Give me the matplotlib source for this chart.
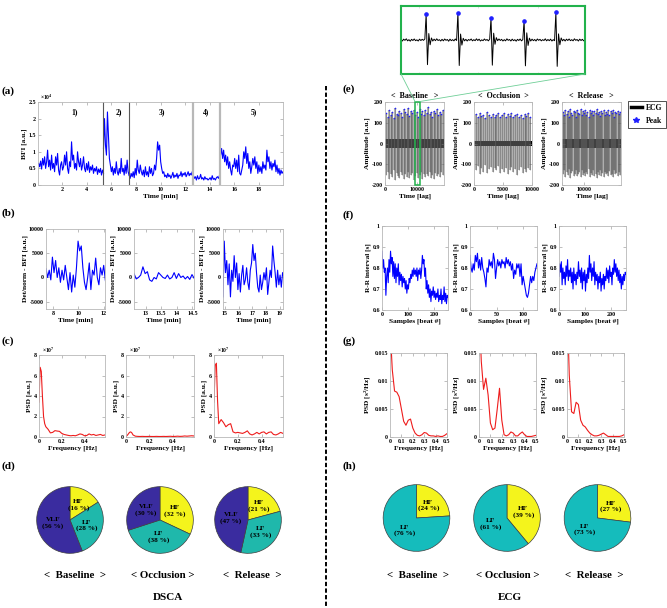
import numpy as np
import matplotlib
matplotlib.use('Agg')
import matplotlib.pyplot as plt
from matplotlib.lines import Line2D
from matplotlib.patches import Rectangle
from matplotlib.ticker import FuncFormatter

W, H = 667, 608

# ---------------- (a) BFI, units of 1e4 a.u. ----------------
SEG_EDGES = [0.1, 5.37, 7.45, 12.66, 14.8, 19.95]
BREAK_COLORS = ['0.35', '0.35', '0.72', '0.72']
BREAK_WIDTHS = [0.8, 0.8, 1.6, 1.6]
SEG_NAMES = ['1)', '2)', '3)', '4)', '5)']
SEG_NAME_X = [3.0, 6.6, 10.1, 13.7, 17.6]

BFI_SEG1 = [0.65, 0.55, 0.72, 0.48, 0.8, 0.6, 0.85, 0.5, 0.7, 1.05, 0.55, 0.75, 0.45, 0.9, 0.5, 0.65,
            0.4, 0.85, 0.6, 0.95, 0.45, 0.3, 0.6, 0.7, 0.45, 0.55, 0.9, 0.6, 1.0, 0.5, 0.35, 0.7, 0.55,
            1.3, 0.75, 0.9, 0.5, 0.65, 0.45, 1.0, 0.7, 0.55, 0.8, 0.45, 0.6, 0.85, 0.5, 0.4, 0.65, 0.45,
            0.7, 0.38, 0.55, 0.45, 0.6, 0.35, 0.5, 0.42, 0.55, 0.32, 0.48, 0.38, 0.5, 0.3, 0.45, 0.35]
BFI_SEG2 = [1.1, 2.0, 1.2, 0.9, 2.2, 1.5, 0.8, 0.6, 0.4, 0.55, 0.3, 0.5, 0.35, 0.7, 0.4, 0.3, 0.5,
            0.35, 0.8, 0.4, 0.5, 0.3, 0.6, 0.35, 0.75, 0.4, 0.3]
BFI_SEG3 = [0.3, 0.2, 0.35, 0.25, 0.4, 0.22, 0.5, 0.3, 0.75, 0.45, 0.35, 0.6, 0.4, 0.3, 0.45, 0.25,
            0.55, 0.3, 0.4, 0.25, 0.55, 0.35, 0.5, 0.28, 0.35, 0.6, 0.45, 0.8, 1.3, 1.05, 1.2, 0.7, 0.5,
            0.35, 0.4, 0.25, 0.3, 0.22, 0.35, 0.25, 0.3, 0.2, 0.28, 0.38, 0.22, 0.3, 0.25, 0.35, 0.2,
            0.3, 0.28, 0.4, 0.25, 0.35, 0.3, 0.38, 0.25, 0.32, 0.4, 0.28, 0.35, 0.3, 0.4, 0.28]
BFI_SEG4 = [0.3, 0.2, 0.25, 0.15, 0.28, 0.18, 0.2, 0.32, 0.18, 0.22, 0.15, 0.25, 0.18, 0.2, 0.15,
            0.18, 0.22, 0.15, 0.28, 0.17, 0.2, 0.15, 0.22, 0.25, 0.2, 0.3]
BFI_SEG5 = [1.4, 0.9, 1.1, 0.8, 1.05, 0.7, 0.9, 0.6, 0.85, 0.5, 0.7, 0.45, 0.3, 0.6, 0.55, 0.8, 0.5,
            0.75, 0.4, 0.9, 0.35, 0.3, 0.45, 0.6, 1.0, 0.8, 1.15, 0.65, 0.95, 0.5, 0.7, 0.35, 0.55,
            0.8, 0.6, 0.85, 0.5, 0.7, 0.35, 0.6, 0.4, 0.55, 0.35, 0.7, 0.5, 0.6, 0.45, 1.05, 0.7, 0.85,
            0.5, 0.7, 0.45, 0.65, 0.55, 0.75, 0.4, 0.6, 0.35, 0.5, 0.3, 0.45, 0.35, 0.4]
BFI_SEGS = [BFI_SEG1, BFI_SEG2, BFI_SEG3, BFI_SEG4, BFI_SEG5]

# ---------------- (b) detrended / normalised BFI ----------------
DET_RANGES = [(7.45, 12.1), (12.63, 14.55), (14.85, 19.25)]
DET_XTICKS = [[8, 10, 12], [13, 13.5, 14, 14.5], [15, 16, 17, 18, 19]]
DET_1 = [1800, 0, 1500, -500, 4200, 1000, 3500, 0, 2000, -1000, 1500, -500, 2500, 0, -2500, 1000,
         -3000, 500, -2000, 2000, 7500, 5500, 6500, 2000, -1000, -2500, 0, 3000, -2500, 1500, 500,
         4000, 0, -1500, 2000, 500, 2500, -500, -2500]
DET_2 = [800, -300, 0, 500, 2200, 800, 1200, -500, -800, 0, -300, 1000, 500, 0, -200, 500, -300, 0,
         1000, -200, 800, 0, 300, -300, 200, -400, 600, -200, 800, -700]
DET_3 = [-4000, 7500, 1000, 3500, -1500, 2800, -4000, 1500, -800, 4500, 0, 3000, -2500, 800, -3000,
         500, 2500, -1500, -500, 2000, -1000, -2500, 1500, 3000, 6800, 3500, 5000, 1000, -2000, -3000,
         500, -2500, -1000, 1000, -500, 2000, -3500, -1000, 1500, 0, 6500, 3500, 1000, -2000, 1500,
         -1500, 500, -2000, 1000, 0, 3500]
DET_SERIES = [DET_1, DET_2, DET_3]

# ---------------- (c) DSCA PSD, units of 1e7 ----------------
C_FREQ = [0, 0.01, 0.02, 0.03, 0.04, 0.05, 0.06, 0.08, 0.10, 0.12, 0.14, 0.16, 0.18, 0.20, 0.22,
          0.24, 0.26, 0.28, 0.30, 0.32, 0.34, 0.36, 0.38, 0.40, 0.42, 0.44, 0.46, 0.48, 0.50, 0.52,
          0.54, 0.56, 0.58]
C_PSD_1 = [3.4, 6.8, 6.4, 4.0, 2.0, 1.3, 1.0, 0.75, 0.4, 0.45, 0.62, 0.58, 0.55, 0.35, 0.25, 0.2,
           0.15, 0.12, 0.15, 0.12, 0.2, 0.3, 0.25, 0.12, 0.15, 0.3, 0.2, 0.25, 0.15, 0.2, 0.25, 0.15, 0.2]
C_PSD_2 = [0.05, 0.15, 0.3, 0.45, 0.5, 0.4, 0.2, 0.08, 0.06, 0.05, 0.06, 0.05, 0.05, 0.06, 0.05,
           0.05, 0.06, 0.05, 0.05, 0.06, 0.05, 0.06, 0.07, 0.05, 0.06, 0.08, 0.06, 0.07, 0.1, 0.08,
           0.1, 0.12, 0.1]
C_PSD_3 = [3.4, 7.0, 7.2, 3.5, 1.3, 1.5, 1.7, 1.4, 1.0, 1.2, 1.3, 0.5, 0.4, 0.45, 0.4, 0.35, 0.45,
           0.6, 0.3, 0.2, 0.3, 0.45, 0.3, 0.45, 0.5, 0.3, 0.45, 0.5, 0.25, 0.2, 0.3, 0.45, 0.35]
C_SERIES = [C_PSD_1, C_PSD_2, C_PSD_3]

# ---------------- (d) DSCA pies ----------------
PIE_LABELS_D = ['HF', 'LF', 'VLF']
PIE_D = [[16, 28, 56], [32, 38, 30], [21, 33, 47]]
PIE_COLORS_D = ['#f4f41c', '#1fb8ab', '#3a2c9f']

CONDITIONS = ['<  Baseline  >', '< Occlusion >', '<  Release  >']

# ---------------- (e) ECG ----------------
ECG_LEN = [18400, 10000, 26700]
ECG_XTICKS = [[0, 10000], [0, 5000, 10000], [0, 10000]]
ECG_BAND = [22, 13, 20]
PEAKS_1 = [145, 130, 160, 138, 152, 125, 170, 142, 135, 158, 148, 128, 165, 150, 140, 172, 133, 155,
           145, 162, 138, 150, 127, 168, 143, 156, 135, 160, 148, 175, 140, 152, 130, 158, 145, 165,
           138, 150, 142, 160]
TROUGHS_1 = [-150, -135, -170, -145, -160, -130, -175, -140, -155, -165, -138, -150, -172, -145,
             -160, -135, -168, -150, -142, -175, -155, -140, -165, -150, -135, -170, -148, -160,
             -145, -155, -138, -165, -150, -172, -140, -158, -145, -162, -135, -150]
PEAKS_2 = [140, 128, 145, 132, 138, 125, 150, 135, 130, 142, 127, 138, 145, 130, 135, 148, 126, 140,
           133, 145, 128, 138, 142, 130, 136, 125, 140, 132, 145, 130]
TROUGHS_2 = [-130, -110, -145, -120, -135, -105, -140, -125, -115, -138, -120, -130, -110, -142,
             -125, -135, -118, -145, -128, -112, -138, -122, -150, -130, -115, -140, -125, -135,
             -118, -128]
PEAKS_3 = [150, 135, 162, 140, 155, 128, 165, 145, 138, 158, 150, 130, 160, 148, 142, 165, 135, 155,
           145, 160, 138, 152, 130, 162, 145, 155, 135, 158, 148, 165, 140, 150, 132, 158, 145, 162,
           138, 150, 142, 160, 135, 155, 148, 162, 130, 150, 145, 158, 140, 152]
TROUGHS_3 = [-145, -130, -160, -138, -150, -125, -165, -140, -132, -155, -148, -128, -158, -145,
             -135, -162, -130, -150, -140, -158, -135, -148, -125, -160, -142, -152, -130, -155,
             -145, -165, -138, -150, -128, -155, -142, -160, -135, -148, -140, -158, -132, -152,
             -145, -160, -128, -148, -142, -155, -138, -150]
ECG_PEAKS = [PEAKS_1, PEAKS_2, PEAKS_3]
ECG_TROUGHS = [TROUGHS_1, TROUGHS_2, TROUGHS_3]

# zoomed window of the baseline ECG
ZOOM_RANGE = (9350, 10900)
ZOOM_TRACE = [3, -6, 5, -2, 7, -5, 2, -7, 4, -3, 6, -4, 1, -6, 5, -3, 4, -2,
              6, 152, -145, 38, -28, 12, -6,
              5, -4, 7, -3, 2, -6, 4, -5, 6, -2, 3, -7, 5, -4, 2, -5, 6,
              -3, 160, -150, 35, -30, 10, -5,
              4, -6, 3, -2, 6, -5, 2, -4, 7, -3, 5, -6, 1, -4, 6, -2, 3, -5,
              5, 129, -148, 40, -25, 14, -4,
              6, -3, 4, -6, 2, -5, 7, -2, 3, -6, 5, -4, 2, -7, 4, -3, 6, -5,
              2, 114, -152, 42, -32, 11, -6,
              5, -4, 3, -6, 6, -2, 4, -5, 2, -3, 7, -5, 3, -4, 5, -6, 2,
              -4, 162, -155, 36, -28, 12, -5,
              4, -6, 5, -3, 6, -4, 2, -5, 7, -2, 3, -6, 5, -3, 4, -5, 3]
ZOOM_PEAK_IDX = [19, 43, 68, 93, 117]

# ---------------- (f) R-R intervals ----------------
RR_LEN = [255, 126, 258]
RR_XTICKS = [[0, 100, 200], [0, 50, 100], [0, 100, 200]]
RR_1 = [0.88, 0.80, 0.84, 0.78, 0.80, 0.67, 0.76, 0.80, 0.73, 0.84, 0.78, 0.88, 0.82, 0.85, 0.76,
        0.83, 0.75, 0.82, 0.73, 0.80, 0.76, 0.82, 0.72, 0.78, 0.74, 0.77, 0.71, 0.76, 0.73, 0.75,
        0.70, 0.74, 0.68, 0.72, 0.70, 0.75, 0.73, 0.77, 0.75, 0.79, 0.76, 0.80, 0.77, 0.79, 0.76,
        0.80, 0.74, 0.79, 0.77, 0.80, 0.75, 0.79, 0.86, 0.82, 0.84, 0.76, 0.80, 0.70, 0.74, 0.68,
        0.72, 0.66, 0.70, 0.64, 0.69, 0.67, 0.71, 0.66, 0.69, 0.65, 0.68, 0.66, 0.70, 0.64, 0.67,
        0.65, 0.70, 0.63, 0.67, 0.65, 0.71, 0.64, 0.68, 0.63, 0.67, 0.66]
RR_2 = [0.86, 0.80, 0.78, 0.82, 0.79, 0.86, 0.83, 0.87, 0.80, 0.84, 0.79, 0.85, 0.80, 0.78, 0.75,
        0.71, 0.80, 0.78, 0.84, 0.81, 0.83, 0.80, 0.87, 0.84, 0.75, 0.80, 0.84, 0.81, 0.83, 0.80,
        0.84, 0.82, 0.83, 0.80, 0.85, 0.82, 0.84, 0.81, 0.83, 0.79, 0.82, 0.75, 0.79, 0.77, 0.82,
        0.80, 0.82, 0.76, 0.82, 0.72, 0.76, 0.73, 0.70, 0.67, 0.66, 0.68, 0.72, 0.76, 0.73, 0.76,
        0.74, 0.78, 0.80, 0.82]
RR_3 = [0.76, 0.82, 0.78, 0.83, 0.72, 0.80, 0.75, 0.78, 0.72, 0.81, 0.76, 0.84, 0.74, 0.79, 0.76,
        0.80, 0.73, 0.78, 0.70, 0.80, 0.74, 0.77, 0.72, 0.78, 0.75, 0.83, 0.76, 0.79, 0.73, 0.80,
        0.70, 0.78, 0.74, 0.79, 0.69, 0.77, 0.73, 0.80, 0.75, 0.86, 0.78, 0.82, 0.74, 0.80, 0.76,
        0.83, 0.72, 0.78, 0.74, 0.77, 0.70, 0.76, 0.73, 0.78, 0.69, 0.75, 0.72, 0.77, 0.70, 0.76,
        0.74, 0.80, 0.75, 0.79, 0.73, 0.81, 0.76, 0.78, 0.72, 0.80, 0.77, 0.84, 0.78, 0.82, 0.76,
        0.80, 0.74, 0.79, 0.73, 0.77, 0.70, 0.76, 0.72, 0.77, 0.74, 0.78, 0.77]
RR_SERIES = [RR_1, RR_2, RR_3]

# ---------------- (g) HRV PSD ----------------
G_FREQ = [0, 0.02, 0.04, 0.06, 0.08, 0.10, 0.12, 0.14, 0.16, 0.18, 0.20, 0.22, 0.24, 0.26, 0.28,
          0.30, 0.32, 0.34, 0.36, 0.38, 0.40, 0.42, 0.44, 0.46, 0.48, 0.50]
G_PSD_1 = [0.020, 0.0120, 0.0082, 0.0080, 0.0072, 0.0050, 0.0028, 0.0021, 0.0030, 0.0032, 0.0016,
           0.0007, 0.0003, 0.0002, 0.0004, 0.0008, 0.0007, 0.0003, 0.0002, 0.0002, 0.0001, 0.0002,
           0.0001, 0.0001, 0.0003, 0.0006]
G_PSD_2 = [0.024, 0.0135, 0.0085, 0.0105, 0.0075, 0.0025, 0.0013, 0.0016, 0.0050, 0.0087, 0.0030,
           0.0004, 0.0002, 0.0004, 0.0009, 0.0007, 0.0002, 0.0002, 0.0006, 0.0009, 0.0004, 0.0001,
           0.0001, 0.0001, 0.0002, 0.0003]
G_PSD_3 = [0.025, 0.0110, 0.0045, 0.0042, 0.0062, 0.0058, 0.0030, 0.0021, 0.0018, 0.0012, 0.0007,
           0.0004, 0.0002, 0.0002, 0.0003, 0.0005, 0.0007, 0.0004, 0.0001, 0.0001, 0.0001, 0.0001,
           0.0001, 0.0001, 0.0002, 0.0004]
G_SERIES = [G_PSD_1, G_PSD_2, G_PSD_3]

# ---------------- (h) ECG pies ----------------
PIE_LABELS_H = ['HF', 'LF']
PIE_H = [[24, 76], [39, 61], [27, 73]]
PIE_COLORS_H = ['#f4f41c', '#15bcbc']


plt.rcParams['font.family'] = ['Liberation Serif', 'DejaVu Serif']
plt.rcParams['font.weight'] = 'bold'
plt.rcParams['axes.labelweight'] = 'bold'
plt.rcParams['mathtext.fontset'] = 'custom'
plt.rcParams['mathtext.rm'] = 'Liberation Serif:bold'
plt.rcParams['mathtext.it'] = 'Liberation Serif:bold'
plt.rcParams['mathtext.bf'] = 'Liberation Serif:bold'

TICK = 4.3
LAB = 5.3
fmt = FuncFormatter(lambda v, p: f'{v:g}')

fig = plt.figure(figsize=(W / 100, H / 100), dpi=100)


def add_ax(l, t, r, b):
    return fig.add_axes([l / W, 1 - b / H, (r - l) / W, (b - t) / H])


def ftext(x, y, s, **kw):
    fig.text(x / W, 1 - y / H, s, **kw)


def style(ax):
    for s in ax.spines.values():
        s.set_color('0.72')
        s.set_linewidth(0.6)
    ax.tick_params(direction='in', length=2, width=0.4, color='0.55', labelsize=TICK,
                   pad=1.5, top=True, right=True)
    ax.xaxis.set_major_formatter(fmt)
    ax.yaxis.set_major_formatter(fmt)


# panel tags
for tag, x, y in [('(a)', 2, 91), ('(b)', 2, 213), ('(c)', 2, 341), ('(d)', 2, 466),
                  ('(e)', 343, 89), ('(f)', 343, 215), ('(g)', 343, 341), ('(h)', 343, 466)]:
    ftext(x, y, tag, fontsize=8, fontweight='bold', va='center', ha='left')

# ---- (a)
ax = add_ax(38, 102, 283, 185)
style(ax)
for i, seg in enumerate(BFI_SEGS):
    t = np.linspace(SEG_EDGES[i], SEG_EDGES[i + 1], len(seg))
    ax.plot(t, seg, color='#0000ff', lw=0.8)
for x, c, w in zip(SEG_EDGES[1:-1], BREAK_COLORS, BREAK_WIDTHS):
    ax.axvline(x, color=c, lw=w)
for name, x in zip(SEG_NAMES, SEG_NAME_X):
    ax.text(x, 2.2, name, fontsize=5.5, ha='center', va='center')
ax.set_xlim(0.05, 19.95)
ax.set_ylim(0, 2.5)
ax.set_xticks([2, 4, 6, 8, 10, 12, 14, 16, 18])
ax.set_yticks([0, 0.5, 1, 1.5, 2, 2.5])
ax.set_xlabel('Time [min]', fontsize=LAB, labelpad=1)
ax.set_ylabel('BFI [a.u.]', fontsize=LAB, labelpad=1)
ax.text(0.01, 1.0, r'$\times10^{4}$', transform=ax.transAxes, fontsize=4, ha='left', va='bottom')

# ---- (b)
B_POS = [(46, 229, 105, 309), (134, 229, 194, 309), (223, 229, 283, 309)]
for pos, rng, ticks, vals in zip(B_POS, DET_RANGES, DET_XTICKS, DET_SERIES):
    ax = add_ax(*pos)
    style(ax)
    ax.plot(np.linspace(rng[0], rng[1] + 0.15, len(vals)), vals, color='#0000ff', lw=0.8)
    ax.set_xlim(*rng)
    ax.set_ylim(-6500, 10000)
    ax.set_xticks(ticks)
    ax.set_yticks([-5000, 0, 5000, 10000])
    ax.set_xlabel('Time [min]', fontsize=LAB, labelpad=1)
    ax.set_ylabel('Det/norm - BFI [a.u.]', fontsize=LAB, labelpad=1)

# ---- (c)
C_POS = [(39, 355, 105, 437), (126, 355, 194, 437), (214, 355, 283, 437)]
for pos, vals in zip(C_POS, C_SERIES):
    ax = add_ax(*pos)
    style(ax)
    ax.plot(C_FREQ, vals, color='#ee1c1c', lw=0.8)
    ax.set_xlim(0, 0.58)
    ax.set_ylim(0, 8)
    ax.set_xticks([0, 0.2, 0.4])
    ax.set_yticks([0, 2, 4, 6, 8])
    ax.set_xlabel('Frequency [Hz]', fontsize=LAB, labelpad=1)
    ax.set_ylabel('PSD [a.u.]', fontsize=LAB, labelpad=1)
    ax.text(0.04, 1.0, r'$\times10^{7}$', transform=ax.transAxes, fontsize=4, ha='left', va='bottom')


def draw_pie(cx, cy, r, fracs, names, colors):
    pax = add_ax(cx - r, cy - r, cx + r, cy + r)
    labels = [f'{n}\n({v} %)' for n, v in zip(names, fracs)]
    pax.pie(fracs, labels=labels, colors=colors, startangle=90, counterclock=False,
            labeldistance=0.52,
            wedgeprops=dict(edgecolor='0.25', linewidth=0.5),
            textprops=dict(fontsize=5.2, fontweight='bold', ha='center', va='center',
                           multialignment='center'))
    pax.set_xlim(-1.02, 1.02)
    pax.set_ylim(-1.02, 1.02)
    pax.set_aspect('equal')
    pax.axis('off')


# ---- (d)
for cx, fr in zip([70, 160, 248], PIE_D):
    draw_pie(cx, 520, 34, fr, PIE_LABELS_D, PIE_COLORS_D)
for x, s in zip([75, 163, 252], CONDITIONS):
    ftext(x, 576, s, fontsize=7.8, ha='center', va='center')
ftext(168, 598, 'DSCA', fontsize=8, ha='center', va='center')

# ---- (e)
E_POS = [(385, 102, 444, 185), (474, 102, 532, 185), (562, 102, 621, 185)]
E_TITLES = ['<  Baseline   >', '<  Occlusion  >', '<  Release   >']
e_axes = []
for pos, length, ticks, pk, tr, band, title in zip(E_POS, ECG_LEN, ECG_XTICKS, ECG_PEAKS,
                                                   ECG_TROUGHS, ECG_BAND, E_TITLES):
    ax = add_ax(*pos)
    style(ax)
    x = np.linspace(0, length, len(pk) + 2)[1:-1]
    ax.vlines(x, tr, pk, colors='0.45', lw=1.5, alpha=0.55)
    ax.vlines(x, tr, pk, colors='0.25', lw=0.4, alpha=0.6)
    ax.axhspan(-band, band, color='k', lw=0)
    ax.plot(x, pk, ls='none', marker='*', ms=2.0, color='#2020ff', mew=0)
    ax.set_xlim(0, length)
    ax.set_ylim(-200, 200)
    ax.set_xticks(ticks)
    ax.set_yticks([-200, -100, 0, 100, 200])
    ax.set_xlabel('Time [lag]', fontsize=LAB, labelpad=1)
    ax.set_ylabel('Amplitude [a.u.]', fontsize=LAB, labelpad=1)
    ax.set_title(title, fontsize=5.8, fontweight='bold', pad=3)
    e_axes.append(ax)

GREEN = '#22b24c'
e_axes[0].add_patch(Rectangle((ZOOM_RANGE[0], -200), ZOOM_RANGE[1] - ZOOM_RANGE[0], 400,
                              fill=False, edgecolor=GREEN, lw=1.1, clip_on=False, zorder=5))

leg = fig.legend(handles=[Line2D([], [], color='k', lw=2.5),
                          Line2D([], [], ls='none', marker='*', color='#2020ff', ms=4)],
                 labels=['ECG', 'Peak'], loc='upper left',
                 bbox_to_anchor=(628 / W, 1 - 101 / H), fancybox=False, edgecolor='k',
                 fontsize=5.5, handlelength=1.4, borderpad=0.4, labelspacing=0.6,
                 handletextpad=0.6, borderaxespad=0)
leg.get_frame().set_linewidth(0.6)

# inset
iax = add_ax(401, 6, 585, 74)
lag = np.linspace(ZOOM_RANGE[0], ZOOM_RANGE[1], len(ZOOM_TRACE))
iax.plot(lag, ZOOM_TRACE, color='k', lw=0.7)
iax.plot(lag[ZOOM_PEAK_IDX], np.array(ZOOM_TRACE)[ZOOM_PEAK_IDX], ls='none', marker='o',
         ms=2.3, color='#2020ff')
iax.set_xlim(ZOOM_RANGE)
iax.set_ylim(-200, 200)
iax.tick_params(direction='in', length=1.5, width=0.4, color='0.8', labelleft=False,
                labelbottom=False, top=True, right=True)
for s in iax.spines.values():
    s.set_color(GREEN)
    s.set_linewidth(1.5)

for (x0, y0), (x1, y1) in [((401, 74), (415, 101.5)), ((585, 74), (420, 101.5))]:
    fig.add_artist(Line2D([x0 / W, x1 / W], [1 - y0 / H, 1 - y1 / H], color='#6fcf97', lw=0.6))

# ---- (f)
F_POS = [(382, 226, 448, 310), (470, 226, 537, 310), (559, 226, 626, 310)]
for pos, n, ticks, vals in zip(F_POS, RR_LEN, RR_XTICKS, RR_SERIES):
    ax = add_ax(*pos)
    style(ax)
    ax.plot(np.linspace(0, n, len(vals)), vals, color='#0000ff', lw=0.8)
    ax.set_xlim(0, n)
    ax.set_ylim(0.6, 1.0)
    ax.set_xticks(ticks)
    ax.set_yticks([0.6, 0.7, 0.8, 0.9, 1.0])
    ax.set_xlabel('Samples [beat #]', fontsize=LAB, labelpad=1)
    ax.set_ylabel('R-R interval [s]', fontsize=LAB, labelpad=1)

# ---- (g)
G_POS = [(390, 353, 447, 437), (479, 353, 536, 437), (567, 353, 624, 437)]
for pos, vals in zip(G_POS, G_SERIES):
    ax = add_ax(*pos)
    style(ax)
    ax.plot(G_FREQ, vals, color='#ee1c1c', lw=0.8)
    ax.set_xlim(0, 0.5)
    ax.set_ylim(0, 0.015)
    ax.set_xticks([0, 0.1, 0.2, 0.3, 0.4, 0.5])
    ax.set_yticks([0, 0.005, 0.01, 0.015])
    ax.set_xlabel('Frequency [Hz]', fontsize=LAB, labelpad=1)
    ax.set_ylabel(r'PSD [s$^2$/Hz]', fontsize=LAB, labelpad=1)

# ---- (h)
for cx, fr in zip([416.5, 507, 597.5], PIE_H):
    draw_pie(cx, 518, 34, fr, PIE_LABELS_H, PIE_COLORS_H)
for x, s in zip([418, 508, 594], CONDITIONS):
    ftext(x, 576, s, fontsize=7.8, ha='center', va='center')
ftext(510, 598, 'ECG', fontsize=8, ha='center', va='center')

# divider between DSCA and ECG halves
fig.add_artist(Line2D([326 / W, 326 / W], [1 - 86 / H, 0], color='k', lw=1.4,
                      linestyle=(0, (2.2, 1.2))))

fig.savefig('out.png', dpi=100)
